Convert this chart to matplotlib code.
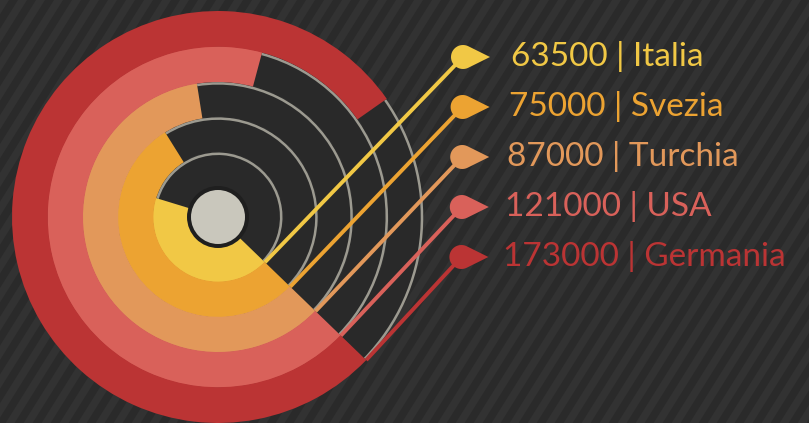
import numpy as np
import matplotlib
matplotlib.use("Agg")
import matplotlib.pyplot as plt
from matplotlib.patches import Wedge, Arc, Circle, Polygon

countries = ["Italia", "Svezia", "Turchia", "USA", "Germania"]
values = [63500, 75000, 87000, 121000, 173000]
# arc length of each ring as drawn in the graphic (degrees, clockwise)
arc_deg = [153, 194, 217, 241, 281]

COL = {
    "bg":       "#2a2a2a",
    "stripe":   "#323232",
    "track":    "#292929",
    "guide":    "#9c9a90",
    "hub":      "#c9c7bc",
    "hub_edge": "#1f1f1f",
}
ring_colors = ["#f1c845", "#eca332", "#e2985a", "#d9615a", "#bb3434"]

W, H = 809, 423
CX, CY = 218, 206          # ring centre (pixel units, y up)
R0, RW = 30.0, 35.2        # innermost radius, ring width
START = -44.0              # all rings start here and run clockwise


def pin_shape(cx, cy, r=12.0, tip=27.0, n=40):
    """Teardrop marker pointing right."""
    a = np.degrees(np.arccos(r / tip))
    th = np.radians(np.linspace(a, 360 - a, n))
    pts = [(cx + r * np.cos(t), cy + r * np.sin(t)) for t in th]
    pts.append((cx + tip, cy))
    return pts


fig = plt.figure(figsize=(W / 100, H / 100), dpi=100, facecolor=COL["bg"])
ax = fig.add_axes([0, 0, 1, 1])
ax.set_xlim(0, W)
ax.set_ylim(0, H)
ax.set_aspect("equal")
ax.axis("off")
ax.set_facecolor(COL["bg"])

# ── diagonal stripes in the background ─────────
period, ang = 18.0, np.radians(58)
shift = H / np.tan(ang)
for x0 in np.arange(-shift - period, W + period, period):
    ax.fill([x0, x0 + period / 2, x0 + period / 2 + shift, x0 + shift],
            [0, 0, H, H], color=COL["stripe"], lw=0, zorder=0)

# ── rings ──────────────────────────────────────
for i, (span, col) in enumerate(zip(arc_deg, ring_colors)):
    r_out = R0 + RW * (i + 1)
    # empty part of the track
    ax.add_patch(Wedge((CX, CY), r_out - 2, START, START - span + 360,
                       width=RW - 2, fc=COL["track"], ec="none",
                       alpha=0.9, zorder=1))
    ax.add_patch(Arc((CX, CY), 2 * (r_out - 2), 2 * (r_out - 2),
                     theta1=START, theta2=START - span + 360,
                     color=COL["guide"], lw=1.8, zorder=2))
    # filled part
    ax.add_patch(Wedge((CX, CY), r_out, START - span, START,
                       width=RW + 0.6, fc=col, ec="none", zorder=3))

# hub
ax.add_patch(Circle((CX, CY), R0 + 1, fc=COL["hub_edge"], ec="none", zorder=4))
ax.add_patch(Circle((CX, CY), 27, fc=COL["hub"], ec="none", zorder=5))

# ── leader lines, pins and labels ──────────────
for i, (name, val, col) in enumerate(zip(countries, values, ring_colors)):
    r_out = R0 + RW * (i + 1)
    x0 = CX + r_out * np.cos(np.radians(START))
    y0 = CY + r_out * np.sin(np.radians(START))
    py = H - (57 + 50 * i)
    px = 463 - 0.4 * i
    ax.plot([x0, px], [y0, py], color=col, lw=2.8,
            solid_capstyle="butt", zorder=6)
    ax.add_patch(Polygon(pin_shape(px, py), closed=True, fc=col,
                         ec="none", zorder=7))
    ax.text(511 - 2 * i, py + 1, f"{val} | {name}", color=col,
            fontsize=24, fontfamily="Lato", fontweight="normal",
            ha="left", va="center", zorder=8)

plt.savefig("out.png", dpi=100, facecolor=COL["bg"])
